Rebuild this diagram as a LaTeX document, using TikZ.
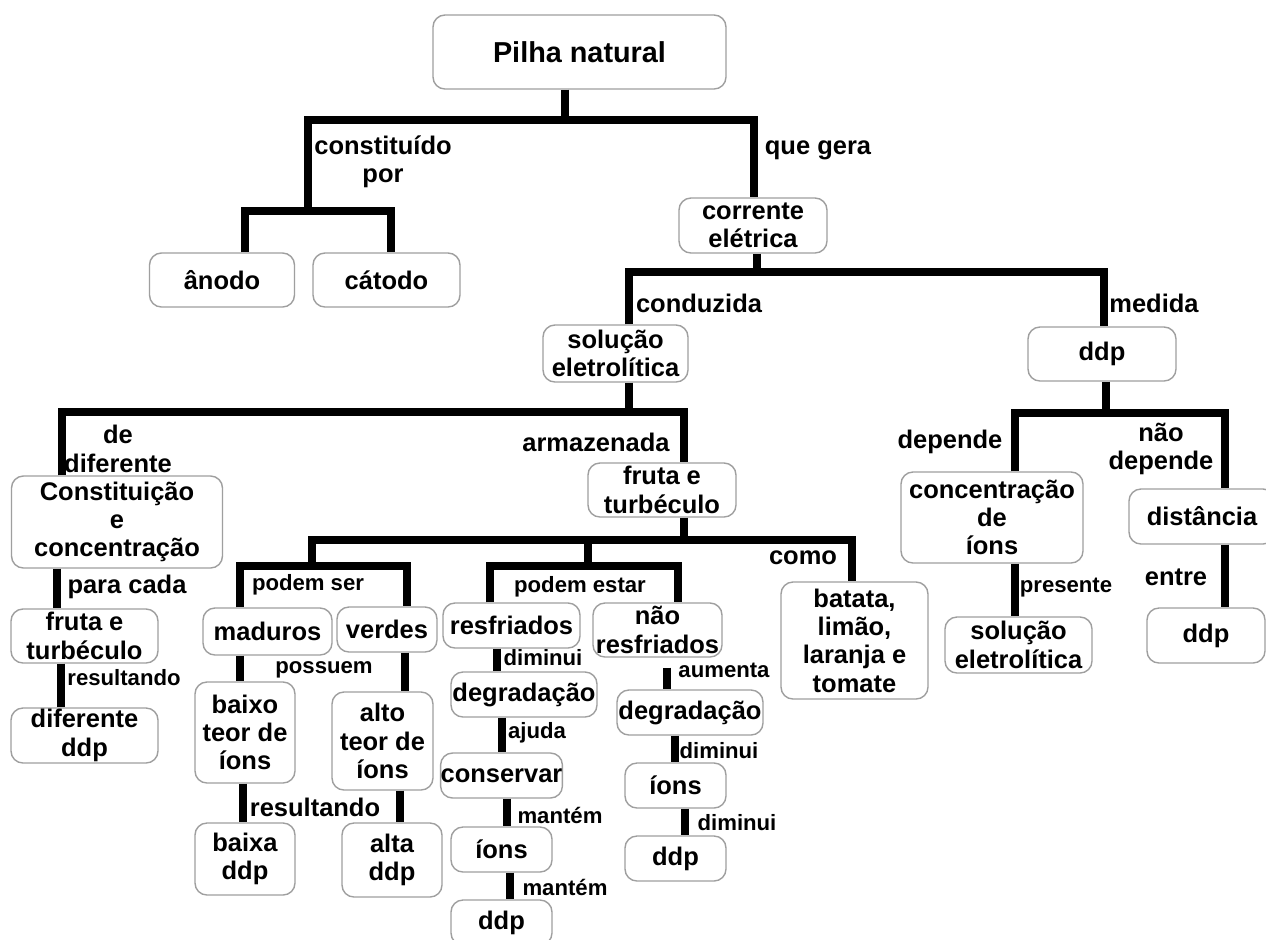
\documentclass[tikz,border=0pt]{standalone}
\usepackage{fontspec}
\setmainfont{Liberation Sans}

\tikzset{
	caixa/.style 2 args={draw=gray!75,line width=0.4pt,rounded corners=3.4pt,fill=white,align=center,inner sep=0pt,minimum width=#1mm,minimum height=#2mm,font=\bfseries\fontsize{7.25}{8.05}\selectfont},
	rotulo/.style={align=center,inner sep=0pt,font=\bfseries\fontsize{7.25}{8.05}\selectfont},
	rotulop/.style={align=center,inner sep=0pt,font=\bfseries\fontsize{6.3}{8.05}\selectfont},
	liga/.style={line width=0.8mm}
}

\begin{document}
\begin{tikzpicture}[x=0.1mm,y=-0.1mm,line join=miter]
		
		\useasboundingbox (0,0) rectangle (1266,939);
		\fill[white] (0,0) rectangle (1266,939);
		
		\node[caixa={29.3}{7.4},font=\bfseries\fontsize{8.2}{9}\selectfont] (pilha) at (579.5,52) {Pilha natural};
		\node[caixa={14.5}{5.4}] (anodo) at (222,280) {ânodo};
		\node[caixa={14.7}{5.4}] (catodo) at (386.5,280) {cátodo};
		\node[caixa={14.8}{5.5}] (corrente) at (753,225.5) {corrente\\elétrica};
		\node[caixa={14.5}{5.7}] (solucao) at (615.5,353.5) {solução\\eletrolítica};
		\node[caixa={14.8}{5.4}] (ddp) at (1102,354) {ddp};
		\node[caixa={21.1}{9.2}] (constit) at (117,522) {Constituição\\e\\concentração};
		\node[caixa={14.8}{5.4}] (fruta) at (662,490) {fruta e\\turbéculo};
		\node[caixa={14.7}{5.4}] (frutaL) at (84.5,636) {fruta e\\turbéculo};
		\node[caixa={14.7}{5.5}] (difddp) at (84.5,735.5) {diferente\\ddp};
		\node[caixa={12.9}{4.7}] (maduros) at (267.5,631.5) {maduros};
		\node[caixa={10.0}{4.5}] (verdes) at (387,629.5) {verdes};
		\node[caixa={10.0}{10.1}] (baixo) at (245,732.5) {baixo\\teor de\\íons};
		\node[caixa={10.1}{9.8}] (alto) at (382.5,741) {alto\\teor de\\íons};
		\node[caixa={10.0}{7.2}] (baixa) at (245,859) {baixa\\ddp};
		\node[caixa={10.0}{7.4}] (alta) at (392,860) {alta\\ddp};
		\node[caixa={13.7}{4.5}] (resfr) at (511.5,625.5) {resfriados};
		\node[caixa={12.9}{5.4}] (naoresfr) at (657.5,630) {não\\resfriados};
		\node[caixa={14.6}{4.5}] (degrL) at (524,694.5) {degradação};
		\node[caixa={11.9}{4.5}] (conserv) at (501.5,775.5) {conservar};
		\node[caixa={10.1}{4.5}] (ionsL) at (501.5,849.5) {íons};
		\node[caixa={10.1}{4.5}] (ddpL) at (501.5,922.5) {ddp};
		\node[caixa={14.6}{4.5}] (degrR) at (690,712.5) {degradação};
		\node[caixa={10.1}{4.5}] (ionsR) at (675.5,785.5) {íons};
		\node[caixa={10.1}{4.5}] (ddpR) at (675.5,858.5) {ddp};
		\node[caixa={14.7}{11.7}] (batata) at (854.5,640.5) {batata,\\limão,\\laranja e\\tomate};
		\node[caixa={18.2}{9.1}] (concentr) at (992,517.5) {concentração\\de\\íons};
		\node[caixa={14.7}{5.6}] (solucaoR) at (1018.5,645) {solução\\eletrolítica};
		\node[caixa={14.6}{5.5}] (distancia) at (1202,516.5) {distância};
		\node[caixa={11.8}{5.5}] (ddpR2) at (1206,635.5) {ddp};
		
		\coordinate (p0) at (565,120);
		\coordinate (p1) at (308,211);
		\coordinate (p2) at (754,120);
		\coordinate (p3) at (245,211);
		\coordinate (p4) at (391,211);
		\draw[liga] (pilha.south -| p0) -- (p0);
		\draw[liga] (p1) |- (p2) -- (corrente.north -| p2);
		\draw[liga] (anodo.north -| p3) |- (p4) -- (catodo.north -| p4);
		
		\coordinate (c0) at (757,272);
		\coordinate (c1) at (629,272);
		\coordinate (c2) at (1104,272);
		\draw[liga] (corrente.south -| c0) -- (c0);
		\draw[liga] (solucao.north -| c1) |- (c2) -- (ddp.north -| c2);
		
		\coordinate (s0) at (629,412);
		\coordinate (s1) at (62,412);
		\coordinate (s2) at (684,412);
		\draw[liga] (solucao.south -| s0) -- (s0);
		\draw[liga] (constit.north -| s1) |- (s2) -- (fruta.north -| s2);
		
		\coordinate (f0) at (684,540);
		\coordinate (f1) at (312,540);
		\coordinate (f2) at (852,540);
		\coordinate (f3) at (588,540);
		\coordinate (m1) at (240,566);
		\coordinate (m2) at (407,566);
		\coordinate (r1) at (490,566);
		\coordinate (r2) at (678,566);
		\draw[liga] (fruta.south -| f0) -- (f0);
		\draw[liga] (f1 |- m1) |- (f2) -- (batata.north -| f2);
		\draw[liga] (f3) -- (f3 |- r1);
		\draw[liga] (maduros.north -| m1) |- (m2) -- (verdes.north -| m2);
		\draw[liga] (resfr.north -| r1) |- (r2) -- (naoresfr.north -| r2);
		
		\coordinate (d0) at (1106,413);
		\coordinate (d1) at (1015,413);
		\coordinate (d2) at (1225,413);
		\draw[liga] (ddp.south -| d0) -- (d0);
		\draw[liga] (concentr.north -| d1) |- (d2) -- (distancia.north -| d2);
		
		\coordinate (k1) at (57,0);
		\coordinate (k2) at (61,0);
		\coordinate (k3) at (240,0);
		\coordinate (k4) at (405,0);
		\coordinate (k5) at (243,0);
		\coordinate (k6) at (400,0);
		\coordinate (k7) at (497,0);
		\coordinate (k8) at (502,0);
		\coordinate (k9) at (507,0);
		\coordinate (k10) at (510,0);
		\coordinate (k11) at (667,0);
		\coordinate (k12) at (675,0);
		\coordinate (k13) at (685,0);
		\coordinate (k14) at (1015,0);
		\coordinate (k15) at (1225,0);
		\draw[liga] (constit.south -| k1) -- (frutaL.north -| k1);
		\draw[liga] (frutaL.south -| k2) -- (difddp.north -| k2);
		\draw[liga] (maduros.south -| k3) -- (baixo.north -| k3);
		\draw[liga] (verdes.south -| k4) -- (alto.north -| k4);
		\draw[liga] (baixo.south -| k5) -- (baixa.north -| k5);
		\draw[liga] (alto.south -| k6) -- (alta.north -| k6);
		\draw[liga] (resfr.south -| k7) -- (degrL.north -| k7);
		\draw[liga] (degrL.south -| k8) -- (conserv.north -| k8);
		\draw[liga] (conserv.south -| k9) -- (ionsL.north -| k9);
		\draw[liga] (ionsL.south -| k10) -- (ddpL.north -| k10);
		\draw[liga,shorten <=1mm] (naoresfr.south -| k11) -- (degrR.north -| k11);
		\draw[liga] (degrR.south -| k12) -- (ionsR.north -| k12);
		\draw[liga] (ionsR.south -| k13) -- (ddpR.north -| k13);
		\draw[liga] (concentr.south -| k14) -- (solucaoR.north -| k14);
		\draw[liga] (distancia.south -| k15) -- (ddpR2.north -| k15);
		
		\node[rotulo] (t1) at (383,162) {constituído\\por};
		\node[rotulo] (t2) at (818,150) {que gera};
		\node[rotulo] (t3) at (699,303) {conduzida};
		\node[rotulo] (t4) at (1154,303) {medida};
		\node[rotulo] (t5) at (118,449) {de\\diferente};
		\node[rotulo] (t6) at (596,442) {armazenada};
		\node[rotulo] (t7) at (803,558) {como};
		\node[rotulo] (t8) at (950,442) {depende};
		\node[rotulo] (t9) at (1161,449) {não\\depende};
		\node[rotulo] (t10) at (1176,577) {entre};
		\node[rotulo] (t11) at (127,587) {para cada};
		\node[rotulo] (t12) at (315,807) {resultando};
		\node[rotulop] (t13) at (308,585) {podem ser};
		\node[rotulop] (t14) at (324,670) {possuem};
		\node[rotulop] (t15) at (580,587) {podem estar};
		\node[rotulop] (t16) at (543,658) {diminui};
		\node[rotulop] (t17) at (537,733) {ajuda};
		\node[rotulop] (t18) at (560,815) {mantém};
		\node[rotulop] (t19) at (565,887) {mantém};
		\node[rotulop] (t20) at (724,670) {aumenta};
		\node[rotulop] (t21) at (719,751) {diminui};
		\node[rotulop] (t22) at (737,823) {diminui};
		\node[rotulop] (t23) at (1066,588) {presente};
		\node[rotulop] (t24) at (124,678) {resultando};
		
\end{tikzpicture}
\end{document}
